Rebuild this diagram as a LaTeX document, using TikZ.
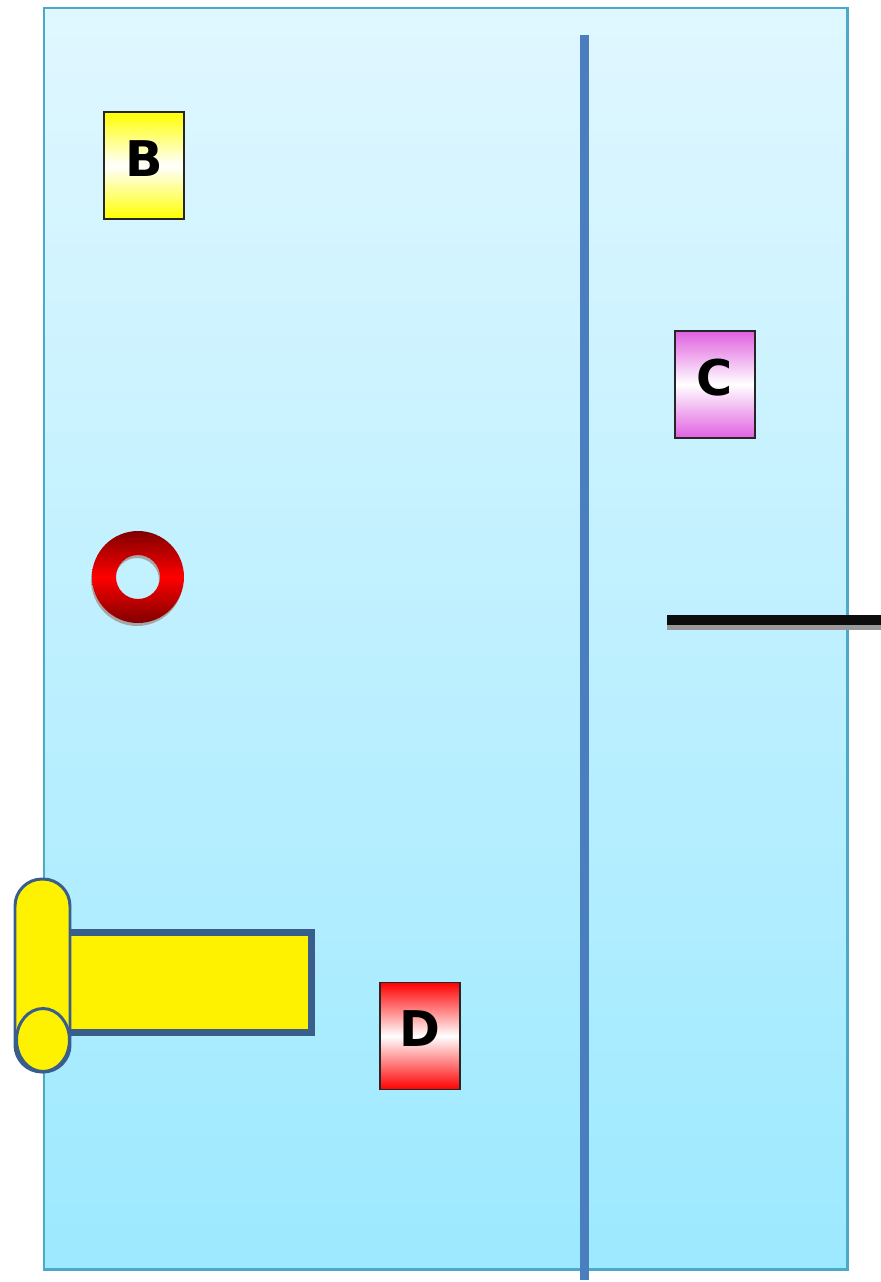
\documentclass[tikz,border=0pt]{standalone}
\usepackage{fontspec}
\setsansfont{DejaVu Sans}
\definecolor{tankline}{RGB}{74,170,200}
\definecolor{tanktop}{RGB}{224,247,255}
\definecolor{tankbottom}{RGB}{157,233,255}
\definecolor{wallblue}{RGB}{74,126,191}
\definecolor{scrollblue}{RGB}{58,94,140}
\definecolor{tagpink}{RGB}{224,96,224}
\begin{document}
\begin{tikzpicture}[
    x=0.02cm, y=-0.02cm,
    tag/.style={draw=black!85, line width=0.6pt, shading=axis, top color=#1, bottom color=#1, middle color=white,
        minimum width=1.6cm, minimum height=2.14cm, inner sep=0pt, text depth=0.28cm,
        font=\sffamily\bfseries\fontsize{28}{28}\selectfont},
    scroll/.style={fill=yellow, draw=scrollblue}
]
\useasboundingbox (0,0) rectangle (881,1282);
\shade[top color=tanktop, bottom color=tankbottom] (44,8) rectangle (847,1269);
\draw[tankline, line width=1.7pt] (44,8) rectangle (847,1269);

\draw[wallblue, line width=4.6pt] (584.5,35) -- (584.5,1280);

\node[tag=yellow] (b) at (144,165.5) {B};
\node[tag=tagpink] (c) at (715,384.5) {C};
\node[tag=red] (d) at (420,1036) {D};

\fill[gray!70, even odd rule] (137,580) circle (0.92cm) circle (0.44cm);
\shade[even odd rule, top color=red!50!black, bottom color=red!50!black, middle color=red]
    (138,577) circle (0.92cm) circle (0.44cm);

\draw[gray!80, line width=3.5pt] (667,627) -- (881,627);
\draw[black!95, line width=5.7pt] (667,620) -- (881,620);

\draw[scroll, line width=4pt] (65.5,932.5) rectangle (311.5,1032.5);
\draw[scroll, line width=1.7pt, rounded corners=0.54cm] (15,879) rectangle (70,1072);
\draw[scroll, line width=1.7pt] (43,1040) ellipse [x radius=0.53cm, y radius=0.63cm];
\end{tikzpicture}
\end{document}
